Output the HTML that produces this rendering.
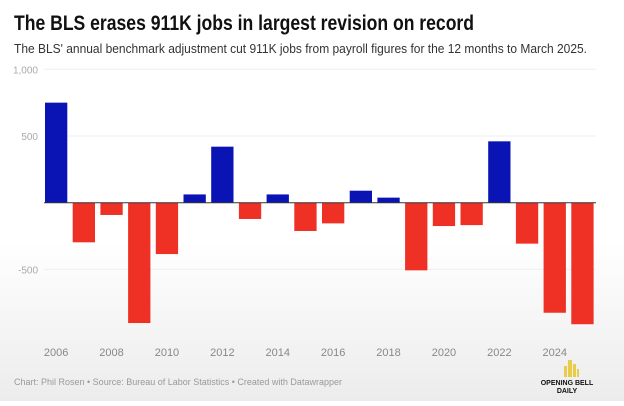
<!DOCTYPE html>
<html><head><meta charset="utf-8"><style>
html,body{margin:0;padding:0;}
body{width:624px;height:401px;overflow:hidden;background:linear-gradient(#ffffff 0%,#ffffff 60%,#ececec 100%);font-family:"Liberation Sans",sans-serif;}
</style></head><body>
<svg id="chart" width="624" height="401" xmlns="http://www.w3.org/2000/svg">
<text x="14" y="30" font-size="21" font-weight="bold" fill="#111" textLength="460" lengthAdjust="spacingAndGlyphs">The BLS erases 911K jobs in largest revision on record</text>
<text x="14" y="53" font-size="12.5" fill="#333" textLength="573" lengthAdjust="spacingAndGlyphs">The BLS' annual benchmark adjustment cut 911K jobs from payroll figures for the 12 months to March 2025.</text>
<g id="grid"></g>
<g id="bars"></g>
<g id="xlabels"></g>
<text x="14" y="385" font-size="9" fill="#999">Chart: Phil Rosen • Source: Bureau of Labor Statistics • Created with Datawrapper</text>
<g>
<rect x="564" y="366" width="3" height="11" fill="#e8cc4a"/>
<rect x="568" y="360" width="4" height="17" fill="#e8cc4a"/>
<rect x="573" y="364" width="3" height="13" fill="#e8cc4a"/>
<rect x="577" y="369" width="2" height="8" fill="#e8cc4a"/>
<text x="567" y="385" font-size="7" font-weight="bold" text-anchor="middle" fill="#111">OPENING BELL</text>
<text x="567" y="393" font-size="7" font-weight="bold" text-anchor="middle" fill="#111">DAILY</text>
</g>
</svg>
<script>
const years = [2006,2007,2008,2009,2010,2011,2012,2013,2014,2015,2016,2017,2018,2019,2020,2021,2022,2023,2024,2025];
const revisions = [750,-297,-92,-902,-385,62,420,-122,62,-212,-155,90,38,-507,-175,-168,460,-307,-825,-911];
const yTicks = [1000,500,0,-500];
const yTickLabels = ["1,000","500","","-500"];
const xTickYears = [2006,2008,2010,2012,2014,2016,2018,2020,2022,2024];

const NS="http://www.w3.org/2000/svg";
const x0=45, step=27.7, bw=22.3;
function xPos(i){return x0+i*step;}
function yPos(v){return 202.7 - v*(133.4/1000);}
const grid=document.getElementById('grid'), bars=document.getElementById('bars'), xl=document.getElementById('xlabels');
yTicks.forEach((t,i)=>{
  if(t!==0){
    const l=document.createElementNS(NS,'line');
    
    
    l.setAttribute('x1',44);l.setAttribute('x2',596);l.setAttribute('y1',yPos(t));l.setAttribute('y2',yPos(t));
    l.setAttribute('stroke','#eee');l.setAttribute('stroke-width','1');grid.appendChild(l);
  }
  const tx=document.createElementNS(NS,'text');
  
  
  tx.setAttribute('x',38);tx.setAttribute('y',yPos(t)+4);tx.setAttribute('text-anchor','end');
  tx.setAttribute('font-size','10');tx.setAttribute('fill','#aaa');tx.textContent=yTickLabels[i];grid.appendChild(tx);
});
revisions.forEach((v,i)=>{
  const r=document.createElementNS(NS,'rect');
  
  
  const y=Math.min(yPos(v),yPos(0)), h=Math.abs(yPos(v)-yPos(0));
  r.setAttribute('x',xPos(i));r.setAttribute('y',y);r.setAttribute('width',bw);r.setAttribute('height',h);
  r.setAttribute('fill',v>=0?'#0a14b4':'#ee3124');bars.appendChild(r);
});
const ax=document.createElementNS(NS,'line');


ax.setAttribute('x1',44);ax.setAttribute('x2',596);ax.setAttribute('y1',yPos(0));ax.setAttribute('y2',yPos(0));
ax.setAttribute('stroke','#333');ax.setAttribute('stroke-width','1');bars.appendChild(ax);
xTickYears.forEach(yr=>{
  const i=years.indexOf(yr);
  const tx=document.createElementNS(NS,'text');
  
  
  tx.setAttribute('x',xPos(i)+bw/2);tx.setAttribute('y',356);tx.setAttribute('text-anchor','middle');
  tx.setAttribute('font-size','11');tx.setAttribute('fill','#888');tx.textContent=yr;xl.appendChild(tx);
});
</script>
</body></html>
